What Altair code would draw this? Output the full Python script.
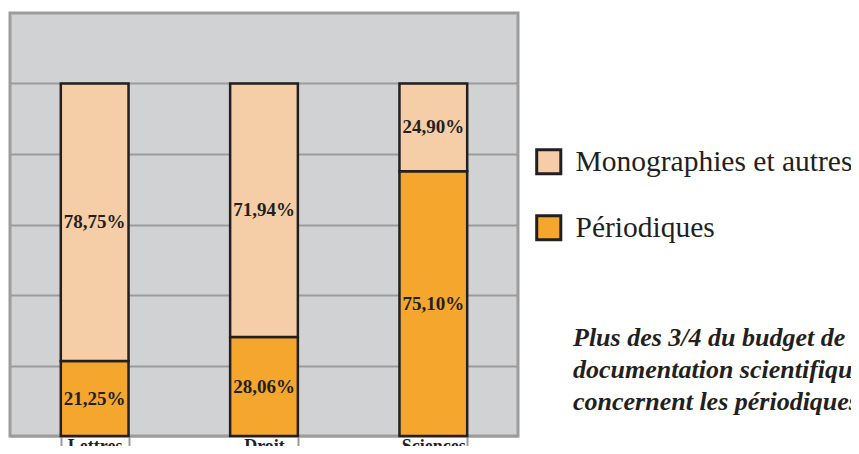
import altair as alt
import pandas as pd

categories = ["Lettres", "Droit", "Sciences"]
series = ["Monographies et autres", "Périodiques"]
periodiques = [21.25, 28.06, 75.10]
monographies = [78.75, 71.94, 24.90]
note_text = "Plus des 3/4 du budget de la\ndocumentation scientifique\nconcernent les périodiques."

rows = []
for i, c in enumerate(categories):
    rows.append({"cat": c, "serie": series[1], "ord": 0, "value": periodiques[i]})
    rows.append({"cat": c, "serie": series[0], "ord": 1, "value": monographies[i]})
df = pd.DataFrame(rows)
df["label"] = df["value"].map(lambda v: f"{v:.2f}".replace(".", ",") + "%")

DARK = "#231F20"
GRID = "#9B9B9B"
SERIF = "Liberation Serif"

base = alt.Chart(df).transform_stack(
    stack="value", groupby=["cat"], as_=["v0", "v1"], sort=[alt.SortField("ord")]
).transform_calculate(mid="(datum.v0 + datum.v1) / 2")

xenc = alt.X(
    "cat:N",
    sort=categories,
    title=None,
    scale=alt.Scale(paddingInner=0.6, paddingOuter=0.3),
    axis=alt.Axis(
        domain=False,
        tickBand="extent",
        tickColor=GRID,
        tickWidth=2,
        tickSize=10,
        labelAngle=0,
        labelFont=SERIF,
        labelFontWeight="bold",
        labelFontSize=18,
        labelColor=DARK,
        labelPadding=-9,
        labelBaseline="top",
    ),
)

yscale = alt.Scale(domain=[0, 120], nice=False)

bars = base.mark_bar(stroke=DARK, strokeWidth=2.5).encode(
    x=xenc,
    y=alt.Y(
        "v0:Q",
        scale=yscale,
        title=None,
        axis=alt.Axis(
            values=[0, 20, 40, 60, 80, 100],
            labels=False,
            ticks=False,
            domain=False,
            grid=True,
            gridColor=GRID,
            gridWidth=2,
            gridOpacity=1,
        ),
    ),
    y2="v1:Q",
    color=alt.Color(
        "serie:N",
        scale=alt.Scale(domain=series, range=["#F5CEA8", "#F4A62D"]),
        legend=alt.Legend(
            title=None,
            orient="none",
            legendX=524,
            legendY=134,
            padding=0,
            symbolType="square",
            symbolSize=580,
            symbolStrokeColor=DARK,
            symbolStrokeWidth=3,
            symbolOpacity=1,
            labelFont=SERIF,
            labelFontSize=29.5,
            labelColor=DARK,
            labelLimit=500,
            labelOffset=12,
            rowPadding=29,
        ),
    ),
)

labels = base.mark_text(
    font=SERIF, fontWeight="bold", fontSize=19, color=DARK, baseline="middle"
).encode(
    x=alt.X("cat:N", sort=categories),
    y=alt.Y("mid:Q", scale=yscale),
    text="label:N",
)

note = alt.Chart(pd.DataFrame({"t": [note_text]})).mark_text(
    font=SERIF,
    fontWeight="bold",
    fontStyle="italic",
    fontSize=26,
    color=DARK,
    align="left",
    baseline="alphabetic",
    lineBreak="\n",
    lineHeight=32,
).encode(
    x=alt.value(563),
    y=alt.value(333),
    text="t:N",
)

chart = (
    alt.layer(bars, labels, note)
    .properties(
        width=508,
        height=423,
        autosize=alt.AutoSizeParams(type="none"),
        padding={"left": 2, "top": 5, "right": 333, "bottom": 10},
        background="white",
    )
    .configure_view(fill="#D1D2D4", stroke="#9C9C9C", strokeWidth=3)
)

chart.save("out.html", embed_options={"renderer": "svg", "actions": False})
